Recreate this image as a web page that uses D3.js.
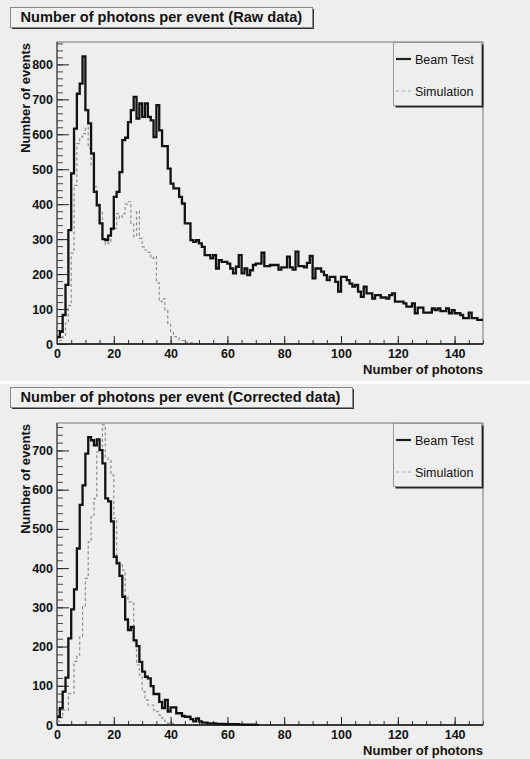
<!DOCTYPE html>
<html>
<head>
<meta charset="utf-8">
<script src="https://cdn.jsdelivr.net/npm/d3@7"></script>
<style>
  body { margin: 0; background: #fff; }
  svg { display: block; font-family: "Liberation Sans", Arial, Helvetica, sans-serif; }
</style>
</head>
<body>
<svg id="chart" width="530" height="759"></svg>
<script>
// counts per 1-photon bin
const rawBeam = [20, 35, 83, 169, 326, 488, 616, 716, 745, 823,
  669, 631, 545, 435, 397, 345, 300, 297, 310, 330,
  421, 435, 492, 583, 590, 635, 669, 707, 645, 688,
  650, 688, 650, 640, 592, 683, 611, 566, 566, 502,
  459, 445, 445, 421, 402, 345, 345, 297, 292, 297,
  288, 278, 254, 254, 245, 254, 216, 240, 235, 235,
  230, 216, 202, 221, 254, 202, 216, 197, 211, 226,
  230, 230, 261, 223, 223, 226, 226, 226, 213, 219,
  219, 250, 219, 213, 264, 223, 223, 219, 232, 252,
  188, 216, 216, 207, 197, 183, 192, 192, 178, 150,
  192, 192, 183, 173, 164, 169, 150, 135, 164, 145,
  145, 130, 140, 140, 133, 133, 130, 140, 145, 121,
  121, 121, 116, 107, 107, 116, 88, 104, 104, 90,
  90, 90, 102, 97, 102, 94, 94, 102, 88, 97,
  88, 88, 83, 74, 74, 90, 74, 74, 69, 69];

const rawSim = [0, 10, 21, 60, 110, 260, 454, 573, 592, 602,
  620, 560, 510, 450, 400, 380, 300, 285, 290, 326,
  331, 373, 360, 373, 400, 407, 345, 307, 380, 302,
  278, 269, 262, 245, 250, 175, 121, 130, 97, 59,
  35, 21, 17, 12, 10, 5, 5, 3, 2, 1, 0];

const corrBeam = [21, 43, 85, 121, 221, 295, 346, 450, 561, 611,
  692, 734, 726, 713, 728, 701, 667, 578, 570, 519,
  429, 412, 380, 327, 269, 242, 250, 216, 201, 161,
  136, 123, 119, 99, 79, 79, 59, 43, 64, 34,
  45, 45, 30, 30, 23, 21, 21, 15, 9, 17,
  9, 6, 6, 4, 4, 4, 3, 3, 3, 2,
  2, 2, 2, 2, 1, 1, 1, 1, 1, 1, 0];

const corrSim = [10, 21, 38, 38, 80, 80, 162, 178, 225, 302,
  374, 467, 531, 577, 696, 696, 765, 683, 675, 637,
  527, 420, 412, 395, 327, 314, 310, 216, 153, 128,
  85, 64, 51, 51, 38, 34, 25, 17, 9, 4,
  4, 2, 1, 0];

const xTicks = [0, 20, 40, 60, 80, 100, 120, 140];
const seriesNames = ["Beam Test", "Simulation"];
const panelTitles = ["Number of photons per event (Raw data)",
  "Number of photons per event (Corrected data)"];
const xTitle = "Number of photons";
const yTitle = "Number of events";

const bg = "#eeeeee";
const svg = d3.select("#chart");

function drawPanel(o) {
  const g = svg.append("g");

  g.append("rect")
    .attr("x", 0).attr("y", o.top)
    .attr("width", 530).attr("height", o.height)
    .attr("fill", bg);

  const x = d3.scaleLinear().domain([0, 150]).range([57, 483]);
  const y = d3.scaleLinear().domain([0, o.ymax]).range([o.y0, o.y1]);

  // minor ticks
  const minorX = d3.range(0, 151, 5);
  const minorY = d3.range(0, o.ymax, 20);
  g.append("g")
    .attr("transform", `translate(0,${o.y0})`)
    .call(d3.axisBottom(x).tickValues(minorX).tickSize(-4).tickFormat(""))
    .call((s) => s.select(".domain").remove())
    .selectAll("line").attr("stroke", "#333");
  g.append("g")
    .attr("transform", "translate(57,0)")
    .call(d3.axisLeft(y).tickValues(minorY).tickSize(-6).tickFormat(""))
    .call((s) => s.select(".domain").remove())
    .selectAll("line").attr("stroke", "#444");

  // major ticks and labels
  const xa = g.append("g")
    .attr("transform", `translate(0,${o.y0})`)
    .call(d3.axisBottom(x).tickValues(xTicks).tickSize(-8).tickPadding(5.5));
  xa.select(".domain").remove();
  xa.selectAll("line").attr("stroke", "#222");
  xa.selectAll("text")
    .attr("font-size", 12.5).attr("font-weight", "bold")
    .attr("fill", "#111").attr("font-family", null);

  const ya = g.append("g")
    .attr("transform", "translate(57,0)")
    .call(d3.axisLeft(y).tickValues(o.yTicks).tickSize(-12).tickPadding(4));
  ya.select(".domain").remove();
  ya.selectAll("line").attr("stroke", "#222");
  ya.selectAll("text")
    .attr("font-size", 12.5).attr("font-weight", "bold")
    .attr("fill", "#111").attr("font-family", null);

  // frame
  g.append("rect")
    .attr("x", 57).attr("y", o.y1)
    .attr("width", 483 - 57).attr("height", o.y0 - o.y1)
    .attr("fill", "none").attr("stroke", "#777").attr("stroke-width", 1);
  g.append("line")
    .attr("x1", 57).attr("x2", 57).attr("y1", o.y1).attr("y2", o.y0)
    .attr("stroke", "#333");

  // histograms
  const clipId = "clip" + o.top;
  g.append("clipPath").attr("id", clipId)
    .append("rect")
    .attr("x", 57).attr("y", o.y1 - 1)
    .attr("width", 426).attr("height", o.y0 - o.y1 + 2);

  const step = d3.line()
    .x((d) => x(d[0]))
    .y((d) => y(d[1]))
    .curve(d3.curveStepAfter);
  const pts = (arr) => arr.map((v, i) => [i, v]).concat([[arr.length, arr[arr.length - 1]]]);

  g.append("path")
    .attr("clip-path", `url(#${clipId})`)
    .attr("d", step(pts(o.sim)))
    .attr("fill", "none")
    .attr("stroke", "#8c8c8c")
    .attr("stroke-width", 1.2)
    .attr("stroke-dasharray", "3,2.5");

  g.append("path")
    .attr("clip-path", `url(#${clipId})`)
    .attr("d", step(pts(o.beam)))
    .attr("fill", "none")
    .attr("stroke", "#111")
    .attr("stroke-width", 2.3)
    .attr("stroke-linejoin", "miter");

  // x axis line
  g.append("line")
    .attr("x1", 57).attr("x2", 483).attr("y1", o.y0).attr("y2", o.y0)
    .attr("stroke", "#111").attr("stroke-width", 1.6);

  // axis titles
  g.append("text")
    .attr("x", 483).attr("y", o.y0 + 30)
    .attr("text-anchor", "end")
    .attr("font-size", 13).attr("font-weight", "bold").attr("fill", "#111")
    .text(xTitle);
  g.append("text")
    .attr("transform", `translate(30,${o.y1 + 1}) rotate(-90)`)
    .attr("text-anchor", "end")
    .attr("font-size", 13).attr("font-weight", "bold").attr("fill", "#111")
    .text(yTitle);

  // title box
  g.append("rect")
    .attr("x", 12).attr("y", o.tb.y + 2)
    .attr("width", o.tb.w).attr("height", o.tb.h)
    .attr("fill", "#333");
  g.append("rect")
    .attr("x", 10.5).attr("y", o.tb.y + 0.5)
    .attr("width", o.tb.w).attr("height", o.tb.h)
    .attr("fill", "#f1f1f1").attr("stroke", "#888").attr("stroke-width", 1);
  const t = g.append("text")
    .attr("x", 20.5).attr("y", o.tb.y + o.tb.h - 5.5)
    .attr("font-size", 14).attr("font-weight", "bold").attr("fill", "#111")
    .text(o.title);
  const len = t.node().getComputedTextLength();
  t.attr("font-size", 14 * o.tb.textW / len);

  // legend
  const lg = g.append("g").attr("transform", `translate(393,${o.y1})`);
  lg.append("rect")
    .attr("x", 2.5).attr("y", 2.5).attr("width", 88).attr("height", 63)
    .attr("fill", "#222");
  lg.append("rect")
    .attr("x", 0.5).attr("y", 0.5).attr("width", 88).attr("height", 63)
    .attr("fill", bg).attr("stroke", "#999");
  const rows = lg.selectAll("g.row")
    .data(seriesNames)
    .join("g")
    .attr("class", "row")
    .attr("transform", (d, i) => `translate(0,${17 + i * 32})`);
  rows.append("line")
    .attr("x1", 3).attr("x2", 18).attr("y1", 0).attr("y2", 0)
    .attr("stroke", (d, i) => (i === 0 ? "#222" : "#aaa"))
    .attr("stroke-width", (d, i) => (i === 0 ? 2.2 : 1.2))
    .attr("stroke-dasharray", (d, i) => (i === 0 ? null : "3,3"));
  rows.append("text")
    .attr("x", 22).attr("y", 4.5)
    .attr("font-size", 12.5).attr("fill", "#111")
    .text((d) => d);
}

drawPanel({
  top: 0, height: 381,
  y0: 344, y1: 42, ymax: 864,
  yTicks: [0, 100, 200, 300, 400, 500, 600, 700, 800],
  beam: rawBeam, sim: rawSim,
  title: panelTitles[0],
  tb: { y: 7, w: 302, h: 20, textW: 282 }
});

drawPanel({
  top: 384, height: 375,
  y0: 725, y1: 423, ymax: 770,
  yTicks: [0, 100, 200, 300, 400, 500, 600, 700],
  beam: corrBeam, sim: corrSim,
  title: panelTitles[1],
  tb: { y: 387, w: 342, h: 20, textW: 320 }
});
</script>
</body>
</html>
